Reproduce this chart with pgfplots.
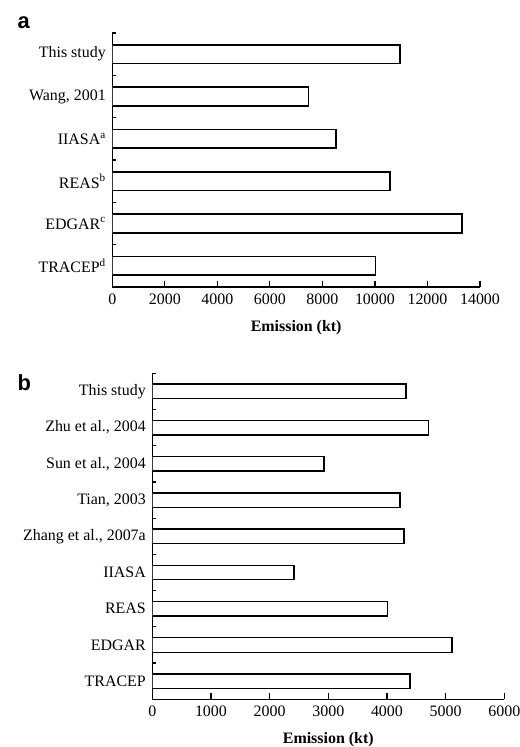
\documentclass[border=0pt]{standalone}
\usepackage{fontspec}
\setmainfont{Liberation Serif}
\newfontfamily\panelfont{Liberation Sans}
\usepackage{pgfplots}
\pgfplotsset{compat=1.18}
\pgfplotsset{
  refstyle/.style={
    scale only axis,
    anchor=south west,
    axis x line*=bottom,
    axis y line*=left,
    axis line style={-, line width=1.4bp},
    enlargelimits=false,
    xmin=0,
    scaled x ticks=false,
    tick align=inside,
    tick style={line width=1.2bp, black},
    major tick length=6bp,
    ytick style={draw=none},
    ticklabel style={font=\fontsize{16}{18}\selectfont},
    xticklabel style={yshift=-3bp},
    /pgf/number format/1000 sep={},
    /pgf/number format/assume math mode=true,
    extra y tick labels={},
    extra y tick style={major tick length=4bp, ytick style={draw=black, line width=1.2bp}},
    xlabel={\textbf{Emission (kt)}},
    xlabel style={font=\fontsize{16}{18}\selectfont, yshift=-9bp},
    yticklabel style={xshift=-3bp},
  }
}
\begin{document}
\begin{tikzpicture}
\path[use as bounding box] (0bp,0bp) rectangle (520bp,-747bp);
\node[font=\panelfont\bfseries\fontsize{22}{24}\selectfont, anchor=base west] at (14bp,-28bp) {a};
\node[font=\panelfont\bfseries\fontsize{22}{24}\selectfont, anchor=base west] at (14bp,-390bp) {b};
\begin{axis}[refstyle,
  at={(112.3bp,-287bp)},
  width=367.7bp, height=254bp,
  xmax=14000, xtick={0,2000,...,14000},
  ymin=-0.5, ymax=5.5,
  ytick={0,1,2,3,4,5},
  yticklabels={TRACEP\textsuperscript{d},EDGAR\textsuperscript{c},REAS\textsuperscript{b},IIASA\textsuperscript{a},{Wang, 2001},This study},
  extra y ticks={0.5,1.5,2.5,3.5,4.5,5.5},
]
\addplot[xbar, bar width=0.44, fill=white, draw=black, line width=1.4bp] coordinates {
(10030,0) (13320,1) (10570,2) (8510,3) (7460,4) (10950,5)};
\end{axis}
\begin{axis}[refstyle,
  at={(152.3bp,-699.3bp)},
  width=352bp, height=326bp,
  xmax=6000, xtick={0,1000,...,6000},
  ymin=-0.5, ymax=8.5,
  ytick={0,1,2,3,4,5,6,7,8},
  yticklabels={TRACEP,EDGAR,REAS,IIASA,{Zhang et al., 2007a},{Tian, 2003},{Sun et al., 2004},{Zhu et al., 2004},This study},
  extra y ticks={0.5,1.5,2.5,3.5,4.5,5.5,6.5,7.5,8.5},
]
\addplot[xbar, bar width=0.4, fill=white, draw=black, line width=1.4bp] coordinates {
(4390,0) (5110,1) (4010,2) (2415,3) (4290,4) (4220,5) (2925,6) (4705,7) (4325,8)};
\end{axis}
\end{tikzpicture}
\end{document}
